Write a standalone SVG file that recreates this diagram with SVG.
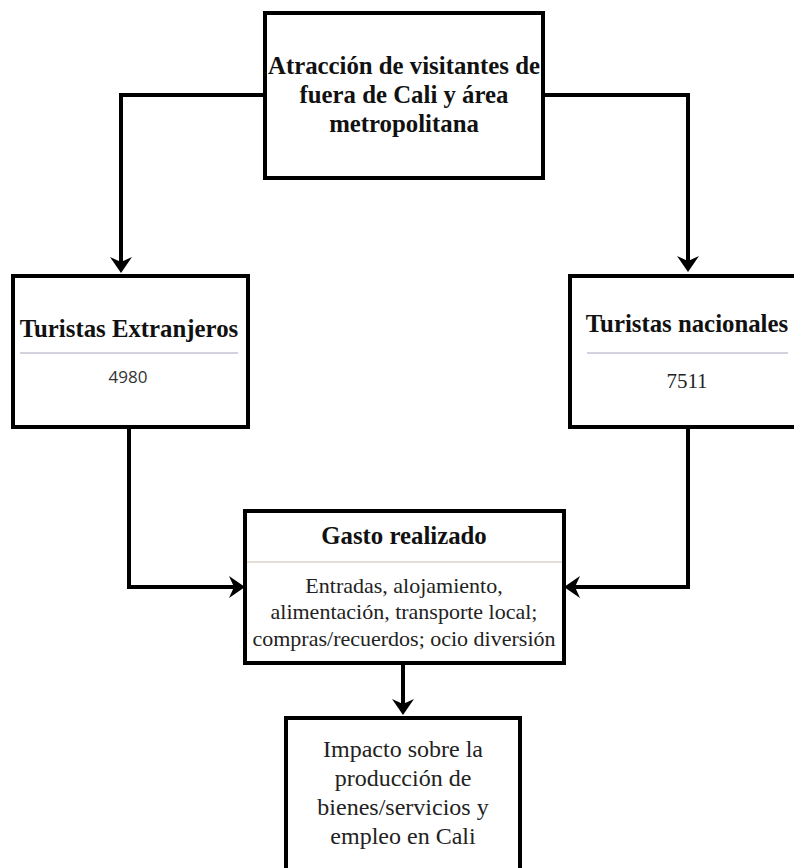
<svg xmlns="http://www.w3.org/2000/svg" width="794" height="868" viewBox="0 0 794 868">
<style>
.box{fill:#fff;stroke:#000;stroke-width:4}
.conn{fill:none;stroke:#000;stroke-width:4}
.title{font-family:"Liberation Serif","Times New Roman",serif;font-weight:bold;font-size:24.8px;fill:#111;text-anchor:middle}
.body{font-family:"Liberation Serif","Times New Roman",serif;font-size:22px;fill:#222;text-anchor:middle}
.big{font-family:"Liberation Serif","Times New Roman",serif;font-size:24px;fill:#222;text-anchor:middle}
.num{font-family:"Open Sans","DejaVu Sans",sans-serif;font-size:17px;fill:#333;text-anchor:middle}
.div1{stroke:#a8a8c0;stroke-width:1.2}
.div2{stroke:#c8bcae;stroke-width:1.2}
</style>
<defs>
<marker id="arr" markerUnits="userSpaceOnUse" markerWidth="20" markerHeight="24" refX="8" refY="0" orient="auto" overflow="visible">
<path d="M16,0 L0,-11 L5,0 L0,11 Z" fill="#000"/>
</marker>
</defs>
<g id="connectors">
<path class="conn" d="M265,95 H121 V265" marker-end="url(#arr)"/>
<path class="conn" d="M543,95 H688 V264" marker-end="url(#arr)"/>
<path class="conn" d="M129,427 V587 H237" marker-end="url(#arr)"/>
<path class="conn" d="M688,427 V587 H572" marker-end="url(#arr)"/>
<path class="conn" d="M403,663 V707" marker-end="url(#arr)"/>
</g>
<g id="node-atraccion">
<rect class="box" x="265" y="13" width="278" height="165"/>
<text class="title" x="404" y="74">Atracción de visitantes de</text>
<text class="title" x="404" y="103">fuera de Cali y área</text>
<text class="title" x="404" y="132">metropolitana</text>
</g>
<g id="node-extranjeros">
<rect class="box" x="13" y="276" width="235" height="151"/>
<text class="title" x="129" y="337">Turistas Extranjeros</text>
<line class="div1" x1="20" y1="353" x2="238" y2="353"/>
<text class="num" x="128" y="383">4980</text>
</g>
<g id="node-nacionales">
<rect class="box" x="570" y="276" width="240" height="151"/>
<text class="title" x="687" y="332">Turistas nacionales</text>
<line class="div1" x1="587" y1="353" x2="788" y2="353"/>
<text class="body" x="687" y="388" style="font-size:21px">7511</text>
</g>
<g id="node-gasto">
<rect class="box" x="245" y="511" width="319" height="152"/>
<text class="title" x="404" y="544">Gasto realizado</text>
<line class="div2" x1="247" y1="562" x2="562" y2="562"/>
<text class="body" x="404" y="593">Entradas, alojamiento,</text>
<text class="body" x="404" y="619">alimentación, transporte local;</text>
<text class="body" x="404" y="646">compras/recuerdos; ocio diversión</text>
</g>
<g id="node-impacto">
<rect class="box" x="286" y="718" width="234" height="170"/>
<text class="big" x="403" y="757">Impacto sobre la</text>
<text class="big" x="403" y="786">producción de</text>
<text class="big" x="403" y="815">bienes/servicios y</text>
<text class="big" x="403" y="844">empleo en Cali</text>
</g>
</svg>
